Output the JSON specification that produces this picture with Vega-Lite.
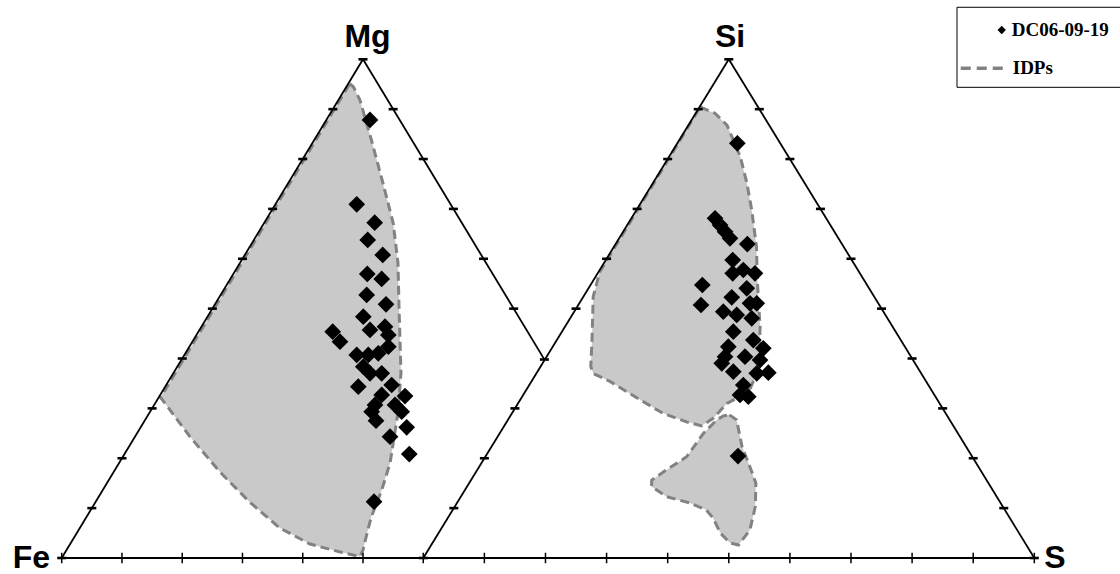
{
  "$schema": "https://vega.github.io/schema/vega-lite/v6.json",
  "width": 1120,
  "height": 574,
  "padding": 0,
  "autosize": {"type": "none"},
  "background": "white",
  "config": {"view": {"stroke": null}},
  "datasets": {
    "frame": [
      {"x": 0, "y": 0, "x2": 50, "y2": 100},
      {"x": 50, "y": 100, "x2": 80.14, "y2": 39.72},
      {"x": 0, "y": 0, "x2": 161.4, "y2": 0},
      {"x": 60, "y": 0, "x2": 110.7, "y2": 100},
      {"x": 110.7, "y": 100, "x2": 161.4, "y2": 0}
    ],
    "ticksH": [
      {"x": 0, "y": 0}, {"x": 5, "y": 10}, {"x": 10, "y": 20}, {"x": 15, "y": 30}, {"x": 20, "y": 40},
      {"x": 25, "y": 50}, {"x": 30, "y": 60}, {"x": 35, "y": 70}, {"x": 40, "y": 80}, {"x": 45, "y": 90},
      {"x": 50, "y": 100},
      {"x": 55, "y": 90}, {"x": 60, "y": 80}, {"x": 65, "y": 70}, {"x": 70, "y": 60}, {"x": 75, "y": 50},
      {"x": 80.1, "y": 39.8},
      {"x": 60, "y": 0}, {"x": 65.07, "y": 10}, {"x": 70.14, "y": 20}, {"x": 75.21, "y": 30},
      {"x": 85.35, "y": 50}, {"x": 90.42, "y": 60}, {"x": 95.49, "y": 70}, {"x": 100.56, "y": 80},
      {"x": 105.63, "y": 90}, {"x": 110.7, "y": 100},
      {"x": 161.4, "y": 0}, {"x": 156.33, "y": 10}, {"x": 151.26, "y": 20}, {"x": 146.19, "y": 30},
      {"x": 141.12, "y": 40}, {"x": 136.05, "y": 50}, {"x": 130.98, "y": 60}, {"x": 125.91, "y": 70},
      {"x": 120.84, "y": 80}, {"x": 115.77, "y": 90}
    ],
    "ticksV": [
      {"x": 0, "y": 0}, {"x": 10, "y": 0}, {"x": 20, "y": 0}, {"x": 30, "y": 0}, {"x": 40, "y": 0},
      {"x": 50, "y": 0}, {"x": 60, "y": 0},
      {"x": 70.14, "y": 0}, {"x": 80.28, "y": 0}, {"x": 90.42, "y": 0}, {"x": 100.56, "y": 0},
      {"x": 110.7, "y": 0}, {"x": 120.84, "y": 0}, {"x": 130.98, "y": 0}, {"x": 141.12, "y": 0},
      {"x": 151.26, "y": 0}, {"x": 161.4, "y": 0}
    ],
    "regions": [
      {"region": "A", "order": 1, "x": 47.8, "y": 95.1},
      {"region": "A", "order": 2, "x": 48.4, "y": 94.5},
      {"region": "A", "order": 3, "x": 49.5, "y": 91.8},
      {"region": "A", "order": 4, "x": 51.4, "y": 83.8},
      {"region": "A", "order": 5, "x": 53.3, "y": 75.2},
      {"region": "A", "order": 6, "x": 55.0, "y": 67.2},
      {"region": "A", "order": 7, "x": 55.8, "y": 59.2},
      {"region": "A", "order": 8, "x": 56.0, "y": 49.1},
      {"region": "A", "order": 9, "x": 56.3, "y": 37.1},
      {"region": "A", "order": 10, "x": 55.8, "y": 29.1},
      {"region": "A", "order": 11, "x": 54.5, "y": 19.1},
      {"region": "A", "order": 12, "x": 53.1, "y": 13.6},
      {"region": "A", "order": 13, "x": 51.4, "y": 8.3},
      {"region": "A", "order": 14, "x": 50.8, "y": 5.6},
      {"region": "A", "order": 15, "x": 50.0, "y": 1.6},
      {"region": "A", "order": 16, "x": 49.5, "y": 0.3},
      {"region": "A", "order": 17, "x": 46.2, "y": 1.2},
      {"region": "A", "order": 18, "x": 41.2, "y": 2.8},
      {"region": "A", "order": 19, "x": 36.2, "y": 6.0},
      {"region": "A", "order": 20, "x": 31.2, "y": 11.2},
      {"region": "A", "order": 21, "x": 26.3, "y": 17.2},
      {"region": "A", "order": 22, "x": 21.3, "y": 24.3},
      {"region": "A", "order": 23, "x": 16.4, "y": 32.2},
      {"region": "B", "order": 1, "x": 106.0, "y": 90.5},
      {"region": "B", "order": 2, "x": 106.4, "y": 90.2},
      {"region": "B", "order": 3, "x": 108.4, "y": 89.2},
      {"region": "B", "order": 4, "x": 110.4, "y": 86.8},
      {"region": "B", "order": 5, "x": 112.6, "y": 80.5},
      {"region": "B", "order": 6, "x": 113.7, "y": 75.2},
      {"region": "B", "order": 7, "x": 114.5, "y": 69.8},
      {"region": "B", "order": 8, "x": 115.3, "y": 62.4},
      {"region": "B", "order": 9, "x": 115.4, "y": 57.2},
      {"region": "B", "order": 10, "x": 115.6, "y": 51.7},
      {"region": "B", "order": 11, "x": 115.9, "y": 46.4},
      {"region": "B", "order": 12, "x": 115.6, "y": 37.7},
      {"region": "B", "order": 13, "x": 114.0, "y": 33.3},
      {"region": "B", "order": 14, "x": 110.4, "y": 31.0},
      {"region": "B", "order": 15, "x": 108.1, "y": 28.0},
      {"region": "B", "order": 16, "x": 106.2, "y": 26.5},
      {"region": "B", "order": 17, "x": 103.7, "y": 27.3},
      {"region": "B", "order": 18, "x": 99.8, "y": 29.0},
      {"region": "B", "order": 19, "x": 96.0, "y": 31.7},
      {"region": "B", "order": 20, "x": 91.0, "y": 35.4},
      {"region": "B", "order": 21, "x": 88.2, "y": 37.0},
      {"region": "B", "order": 22, "x": 87.8, "y": 38.4},
      {"region": "B", "order": 23, "x": 88.0, "y": 43.7},
      {"region": "B", "order": 24, "x": 88.2, "y": 52.4},
      {"region": "B", "order": 25, "x": 89.3, "y": 57.4},
      {"region": "C", "order": 1, "x": 110.8, "y": 28.7},
      {"region": "C", "order": 2, "x": 112.0, "y": 27.7},
      {"region": "C", "order": 3, "x": 112.9, "y": 22.3},
      {"region": "C", "order": 4, "x": 114.2, "y": 18.3},
      {"region": "C", "order": 5, "x": 115.2, "y": 15.0},
      {"region": "C", "order": 6, "x": 115.1, "y": 10.3},
      {"region": "C", "order": 7, "x": 114.2, "y": 5.6},
      {"region": "C", "order": 8, "x": 112.3, "y": 2.6},
      {"region": "C", "order": 9, "x": 110.9, "y": 3.0},
      {"region": "C", "order": 10, "x": 109.3, "y": 5.0},
      {"region": "C", "order": 11, "x": 108.1, "y": 8.0},
      {"region": "C", "order": 12, "x": 107.0, "y": 9.6},
      {"region": "C", "order": 13, "x": 104.3, "y": 11.0},
      {"region": "C", "order": 14, "x": 100.4, "y": 12.3},
      {"region": "C", "order": 15, "x": 97.9, "y": 14.3},
      {"region": "C", "order": 16, "x": 97.9, "y": 15.6},
      {"region": "C", "order": 17, "x": 100.4, "y": 17.7},
      {"region": "C", "order": 18, "x": 103.7, "y": 20.3},
      {"region": "C", "order": 19, "x": 106.5, "y": 25.0},
      {"region": "C", "order": 20, "x": 108.7, "y": 27.7},
      {"region": "C", "order": 21, "x": 109.8, "y": 28.5}
    ],
    "points": [
      {"x": 51.16, "y": 87.83}, {"x": 48.96, "y": 70.92}, {"x": 51.94, "y": 67.23}, {"x": 50.78, "y": 63.77},
      {"x": 53.27, "y": 60.76}, {"x": 50.71, "y": 56.95}, {"x": 53.10, "y": 55.95}, {"x": 50.61, "y": 52.74},
      {"x": 53.82, "y": 50.87}, {"x": 50.05, "y": 48.39}, {"x": 44.97, "y": 45.38}, {"x": 51.16, "y": 45.72},
      {"x": 53.65, "y": 46.38}, {"x": 54.20, "y": 44.72}, {"x": 46.18, "y": 43.37}, {"x": 54.20, "y": 42.37},
      {"x": 48.96, "y": 40.71}, {"x": 50.88, "y": 40.71}, {"x": 52.54, "y": 41.05}, {"x": 50.05, "y": 38.36},
      {"x": 51.16, "y": 37.04}, {"x": 53.10, "y": 37.04}, {"x": 49.22, "y": 34.35}, {"x": 54.76, "y": 34.69},
      {"x": 53.10, "y": 32.69}, {"x": 56.97, "y": 32.48}, {"x": 51.99, "y": 30.68}, {"x": 55.31, "y": 30.68},
      {"x": 56.42, "y": 29.34}, {"x": 51.44, "y": 29.34}, {"x": 52.16, "y": 27.53}, {"x": 57.25, "y": 26.21},
      {"x": 54.48, "y": 24.32}, {"x": 57.68, "y": 20.85}, {"x": 51.83, "y": 11.29},
      {"x": 112.12, "y": 83.15}, {"x": 108.42, "y": 68.11}, {"x": 109.25, "y": 66.77}, {"x": 110.08, "y": 65.43},
      {"x": 110.90, "y": 64.10}, {"x": 113.78, "y": 62.96}, {"x": 111.35, "y": 59.75}, {"x": 111.35, "y": 57.08},
      {"x": 113.11, "y": 57.75}, {"x": 115.05, "y": 57.08}, {"x": 106.31, "y": 54.74}, {"x": 113.68, "y": 54.08},
      {"x": 106.09, "y": 50.73}, {"x": 111.19, "y": 52.27}, {"x": 114.22, "y": 51.07}, {"x": 115.34, "y": 51.07},
      {"x": 109.79, "y": 49.39}, {"x": 112.02, "y": 48.73}, {"x": 114.51, "y": 48.06}, {"x": 111.45, "y": 45.38},
      {"x": 114.77, "y": 43.71}, {"x": 116.43, "y": 42.05}, {"x": 115.88, "y": 39.70}, {"x": 110.08, "y": 40.36},
      {"x": 113.39, "y": 40.36}, {"x": 111.45, "y": 37.36}, {"x": 115.34, "y": 37.04}, {"x": 117.26, "y": 37.16},
      {"x": 113.11, "y": 34.69}, {"x": 112.56, "y": 32.69}, {"x": 113.94, "y": 32.34}, {"x": 109.53, "y": 39.04},
      {"x": 110.62, "y": 42.37}, {"x": 112.23, "y": 20.45}
    ],
    "labels": [
      {"label": "Mg", "x": 50.75, "y": 102.5},
      {"label": "Si", "x": 110.9, "y": 102.5},
      {"label": "Fe", "x": -5.03, "y": -2.0},
      {"label": "S", "x": 164.8, "y": -2.0}
    ],
    "legendBox": [{"x": 148.57, "x2": 176.5, "y": 110.43, "y2": 94.38}],
    "legendSym": [{"x": 155.99, "y": 105.87}],
    "legendLine": [{"x": 149.19, "x2": 157.04, "y": 98.19}],
    "legendText": [
      {"label": "DC06-09-19", "x": 157.65, "y": 104.67},
      {"label": "IDPs", "x": 157.82, "y": 97.06}
    ]
  },
  "layer": [
    {
      "data": {"name": "regions"},
      "mark": {"type": "line", "interpolate": "linear-closed", "fill": "#c9c9c9", "stroke": "#828282", "strokeWidth": 3, "strokeDash": [9, 5]},
      "encoding": {
        "x": {"field": "x", "type": "quantitative", "scale": {"domain": [-10.24, 175.62], "nice": false, "zero": false}, "axis": null},
        "y": {"field": "y", "type": "quantitative", "scale": {"domain": [-3.21, 111.89], "nice": false, "zero": false}, "axis": null},
        "detail": {"field": "region", "type": "nominal"},
        "order": {"field": "order", "type": "quantitative"}
      }
    },
    {
      "data": {"name": "frame"},
      "mark": {"type": "rule", "color": "black", "strokeWidth": 1.8},
      "encoding": {
        "x": {"field": "x", "type": "quantitative", "scale": {"domain": [-10.24, 175.62], "nice": false, "zero": false}, "axis": null},
        "y": {"field": "y", "type": "quantitative", "scale": {"domain": [-3.21, 111.89], "nice": false, "zero": false}, "axis": null},
        "x2": {"field": "x2"},
        "y2": {"field": "y2"}
      }
    },
    {
      "data": {"name": "ticksH"},
      "mark": {"type": "point", "shape": "M-1,0H1", "size": 81, "filled": false, "stroke": "black", "strokeWidth": 2.6, "opacity": 1},
      "encoding": {
        "x": {"field": "x", "type": "quantitative", "scale": {"domain": [-10.24, 175.62], "nice": false, "zero": false}, "axis": null},
        "y": {"field": "y", "type": "quantitative", "scale": {"domain": [-3.21, 111.89], "nice": false, "zero": false}, "axis": null}
      }
    },
    {
      "data": {"name": "ticksV"},
      "mark": {"type": "point", "shape": "M0,-1V1", "size": 110, "filled": false, "stroke": "black", "strokeWidth": 1.5, "opacity": 1},
      "encoding": {
        "x": {"field": "x", "type": "quantitative", "scale": {"domain": [-10.24, 175.62], "nice": false, "zero": false}, "axis": null},
        "y": {"field": "y", "type": "quantitative", "scale": {"domain": [-3.21, 111.89], "nice": false, "zero": false}, "axis": null}
      }
    },
    {
      "data": {"name": "points"},
      "mark": {"type": "point", "shape": "diamond", "size": 280, "filled": true, "color": "black", "opacity": 1},
      "encoding": {
        "x": {"field": "x", "type": "quantitative", "scale": {"domain": [-10.24, 175.62], "nice": false, "zero": false}, "axis": null},
        "y": {"field": "y", "type": "quantitative", "scale": {"domain": [-3.21, 111.89], "nice": false, "zero": false}, "axis": null}
      }
    },
    {
      "data": {"name": "labels"},
      "mark": {"type": "text", "font": "Liberation Sans", "fontWeight": "bold", "fontSize": 32, "align": "center", "baseline": "alphabetic", "color": "black"},
      "encoding": {
        "x": {"field": "x", "type": "quantitative", "scale": {"domain": [-10.24, 175.62], "nice": false, "zero": false}, "axis": null},
        "y": {"field": "y", "type": "quantitative", "scale": {"domain": [-3.21, 111.89], "nice": false, "zero": false}, "axis": null},
        "text": {"field": "label"}
      }
    },
    {
      "data": {"name": "legendBox"},
      "mark": {"type": "rect", "fill": "white", "stroke": "black", "strokeWidth": 1},
      "encoding": {
        "x": {"field": "x", "type": "quantitative", "scale": {"domain": [-10.24, 175.62], "nice": false, "zero": false}, "axis": null},
        "y": {"field": "y", "type": "quantitative", "scale": {"domain": [-3.21, 111.89], "nice": false, "zero": false}, "axis": null},
        "x2": {"field": "x2"},
        "y2": {"field": "y2"}
      }
    },
    {
      "data": {"name": "legendSym"},
      "mark": {"type": "point", "shape": "diamond", "size": 70, "filled": true, "color": "black", "opacity": 1},
      "encoding": {
        "x": {"field": "x", "type": "quantitative", "scale": {"domain": [-10.24, 175.62], "nice": false, "zero": false}, "axis": null},
        "y": {"field": "y", "type": "quantitative", "scale": {"domain": [-3.21, 111.89], "nice": false, "zero": false}, "axis": null}
      }
    },
    {
      "data": {"name": "legendLine"},
      "mark": {"type": "rule", "color": "#828282", "strokeWidth": 3.5, "strokeDash": [10, 6]},
      "encoding": {
        "x": {"field": "x", "type": "quantitative", "scale": {"domain": [-10.24, 175.62], "nice": false, "zero": false}, "axis": null},
        "y": {"field": "y", "type": "quantitative", "scale": {"domain": [-3.21, 111.89], "nice": false, "zero": false}, "axis": null},
        "x2": {"field": "x2"}
      }
    },
    {
      "data": {"name": "legendText"},
      "mark": {"type": "text", "font": "Liberation Serif", "fontWeight": "bold", "fontSize": 19, "align": "left", "baseline": "alphabetic", "color": "black"},
      "encoding": {
        "x": {"field": "x", "type": "quantitative", "scale": {"domain": [-10.24, 175.62], "nice": false, "zero": false}, "axis": null},
        "y": {"field": "y", "type": "quantitative", "scale": {"domain": [-3.21, 111.89], "nice": false, "zero": false}, "axis": null},
        "text": {"field": "label"}
      }
    }
  ]
}
